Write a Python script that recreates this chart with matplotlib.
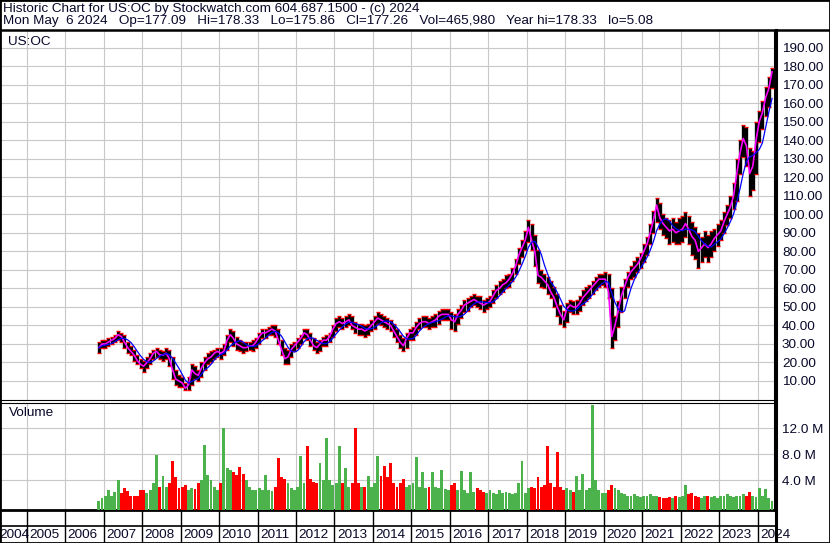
import matplotlib.pyplot as plt
import numpy as np
import pandas as pd
from matplotlib.patches import Rectangle
from matplotlib.lines import Line2D

plt.rcParams['font.family'] = ['Liberation Sans', 'DejaVu Sans']

# monthly values, Nov 2006 .. May 2024
close = [28, 30,
         30, 31, 32, 33, 35, 34, 31, 28, 26, 24, 21, 19,
         18, 20, 22, 25, 26, 24, 24, 25, 22, 16, 11, 10,
         9, 6, 8, 16, 14, 13, 17, 20, 22, 23, 25, 26,
         25, 26, 32, 35, 33, 30, 29, 28, 28, 29, 29, 31,
         34, 36, 36, 37, 38, 37, 32, 27, 22, 23, 27, 29,
         31, 33, 36, 35, 32, 29, 28, 30, 32, 32, 34, 38,
         41, 42, 41, 42, 43, 40, 39, 38, 38, 37, 38, 40,
         42, 44, 43, 42, 41, 40, 37, 34, 31, 29, 33, 36,
         36, 39, 41, 42, 42, 41, 42, 43, 45, 46, 46, 46,
         43, 42, 46, 48, 51, 52, 53, 54, 53, 52, 51, 52,
         53, 56, 59, 60, 62, 63, 65, 68, 72, 78, 82, 86,
         93, 86, 80, 67, 66, 64, 62, 58, 55, 50, 46, 43,
         49, 51, 50, 50, 52, 55, 57, 59, 61, 63, 65, 65,
         65, 58, 34, 40, 48, 56, 61, 66, 69, 71, 73, 76,
         80, 84, 90, 97, 105, 98, 95, 93, 91, 92, 90, 91,
         92, 95, 92, 88, 86, 80, 82, 84, 82, 84, 87, 89,
         91, 96, 100, 104, 110, 122, 133, 141, 137, 122, 126, 140,
         150, 155, 163, 168, 177]
high = [31, 32,
        32, 33, 34, 35, 37, 36, 35, 31, 29, 27, 24, 22,
        21, 23, 25, 27, 28, 27, 26, 28, 27, 23, 16, 13,
        12, 9, 12, 19, 18, 16, 20, 23, 25, 26, 27, 28,
        28, 30, 35, 38, 37, 34, 32, 31, 31, 31, 32, 33,
        36, 38, 38, 39, 40, 40, 38, 32, 28, 27, 30, 31,
        33, 35, 38, 38, 36, 33, 31, 32, 34, 35, 36, 40,
        44, 45, 44, 45, 46, 45, 42, 41, 41, 40, 41, 43,
        45, 47, 46, 45, 44, 43, 41, 38, 35, 33, 36, 38,
        39, 42, 44, 45, 45, 44, 45, 46, 48, 49, 49, 49,
        47, 46, 49, 51, 54, 55, 56, 57, 56, 56, 54, 55,
        56, 59, 62, 64, 65, 67, 68, 71, 76, 82, 86, 91,
        97, 95, 89, 81, 70, 68, 66, 64, 61, 57, 51, 48,
        52, 54, 53, 54, 56, 59, 61, 62, 64, 66, 68, 68,
        69, 68, 60, 45, 53, 61, 65, 69, 72, 75, 77, 79,
        84, 88, 95, 102, 109, 106, 100, 98, 97, 98, 96, 98,
        99, 101, 99, 96, 93, 90, 88, 91, 89, 91, 92, 95,
        97, 101, 105, 110, 117, 130, 140, 148, 147, 136, 134, 150,
        156, 161, 169, 174, 179]
low = [25, 28,
       28, 29, 30, 31, 32, 31, 28, 25, 24, 21, 19, 17,
       15, 17, 19, 22, 23, 22, 21, 22, 18, 11, 8, 7,
       7, 5, 5, 8, 11, 10, 12, 16, 19, 20, 22, 23,
       22, 24, 27, 31, 29, 27, 26, 25, 26, 27, 26, 28,
       30, 33, 33, 35, 35, 34, 30, 24, 19, 19, 23, 26,
       28, 30, 33, 32, 29, 27, 25, 26, 29, 29, 31, 34,
       37, 39, 38, 39, 40, 38, 36, 35, 35, 34, 35, 37,
       38, 41, 40, 39, 38, 37, 34, 31, 28, 26, 28, 32,
       32, 35, 38, 39, 39, 38, 39, 39, 41, 43, 43, 43,
       38, 37, 41, 44, 47, 48, 50, 51, 50, 49, 47, 49,
       50, 52, 55, 57, 58, 60, 61, 64, 68, 73, 77, 81,
       85, 81, 72, 63, 61, 60, 57, 55, 50, 45, 41, 39,
       42, 47, 46, 46, 48, 51, 53, 55, 57, 59, 61, 62,
       61, 55, 28, 32, 39, 47, 55, 61, 65, 66, 69, 71,
       74, 78, 84, 90, 96, 92, 89, 87, 84, 85, 84, 84,
       85, 88, 84, 78, 76, 71, 74, 77, 74, 77, 80, 83,
       86, 90, 94, 98, 103, 107, 122, 131, 126, 110, 113, 122,
       139, 146, 153, 158, 168]
# millions of shares
volume = [0.8, 1.2,
          1.5, 2.5, 1.6, 2.2, 4.0, 2.0, 2.8, 2.3, 1.5, 1.6, 1.6, 2.5,
          2.5, 2.0, 2.5, 3.5, 7.9, 3.0, 4.6, 3.0, 3.5, 6.9, 4.5, 2.8,
          3.0, 3.2, 2.5, 2.8, 2.6, 3.5, 4.0, 9.5, 4.8, 4.0, 3.0, 2.5,
          3.5, 12.0, 5.9, 5.5, 5.2, 4.8, 6.0, 5.0, 4.0, 3.0, 2.5, 2.5,
          2.8, 2.5, 4.8, 2.5, 2.3, 3.0, 7.5, 4.5, 4.2, 3.5, 2.8, 2.5,
          3.0, 7.7, 3.5, 9.3, 4.2, 3.8, 3.5, 6.6, 4.0, 10.5, 4.0, 3.2,
          3.5, 9.3, 3.5, 5.9, 3.0, 3.5, 12.0, 3.5, 3.0, 3.0, 4.6, 3.0,
          3.5, 7.7, 4.6, 6.2, 4.5, 6.6, 3.5, 3.0, 3.6, 4.2, 3.0, 3.2,
          3.5, 7.6, 3.0, 5.2, 2.8, 3.0, 5.2, 3.0, 2.8, 5.5, 2.6, 2.5,
          3.2, 3.5, 2.5, 5.4, 2.5, 2.0, 5.2, 2.2, 2.8, 2.5, 2.2, 2.0,
          2.5, 2.0, 1.8, 2.5, 2.0, 2.2, 2.0, 1.8, 2.0, 3.6, 7.0, 2.0,
          2.8, 3.0, 2.8, 4.5, 3.0, 3.2, 9.3, 3.6, 3.0, 8.3, 3.0, 2.5,
          2.8, 2.5, 2.2, 4.6, 2.5, 5.0, 2.5, 2.8, 15.6, 4.0, 2.5, 2.0,
          2.0, 2.5, 3.3, 2.8, 2.5, 2.0, 1.8, 1.5, 1.6, 1.8, 1.5, 1.4,
          1.5, 1.6, 1.8, 1.6, 1.5, 1.4, 1.3, 1.2, 1.4, 1.3, 1.5, 1.4,
          1.6, 3.2, 1.8, 2.0, 1.5, 1.4, 1.3, 1.6, 1.5, 1.4, 1.5, 1.2,
          1.5, 1.6, 1.8, 1.5, 1.4, 1.6, 1.5, 1.8, 1.6, 2.2, 1.5, 1.4,
          2.8, 1.5, 2.6, 1.2, 0.8]

price_ticks = list(range(10, 200, 10))
vol_ticks = [4, 8, 12]
years = list(range(2004, 2025))
symbol = "US:OC"
title1 = "Historic Chart for US:OC by Stockwatch.com 604.687.1500 - (c) 2024"
title2 = ("Mon May  6 2024   Op=177.09   Hi=178.33   Lo=175.86   Cl=177.26   "
          "Vol=465,980   Year hi=178.33   lo=5.08")

W, H = 830, 543
YEAR_PX = 38.47
X0 = 2005 - 26.7 / YEAR_PX
X1 = 2005 + (775 - 26.7) / YEAR_PX


def box(x0, y0, x1, y1):
    return [x0 / W, 1 - y1 / H, (x1 - x0) / W, (y1 - y0) / H]


dates = pd.date_range('2006-11-01', periods=len(close), freq='MS')
t = dates.year + (dates.month - 0.5) / 12
cs = pd.Series(close, dtype=float)
ma_long = cs.rolling(5, min_periods=1).mean()
up = cs.diff().fillna(0) >= 0

grid_c = '#c8c8c8'
txt_c = '#08082a'
fs = 9.7

fig = plt.figure(figsize=(W / 100, H / 100), dpi=100)
fig.patch.set_facecolor('white')

# header
fig.text(3 / W, 1 - 9 / H, title1, fontsize=fs, color=txt_c, va='center', ha='left')
fig.text(3 / W, 1 - 21 / H, title2, fontsize=fs, color=txt_c, va='center', ha='left')

# price panel
ax = fig.add_axes(box(0, 31, 775, 400))
ax.set_xlim(X0, X1)
ax.set_ylim(-0.27, 199.0)
ax.set_xticks(years[1:])
ax.set_yticks(price_ticks)
ax.grid(True, color=grid_c, lw=0.8)
ax.set_axisbelow(True)
ax.yaxis.tick_right()
ax.set_yticklabels([f"{v:.2f}" for v in price_ticks])
ax.tick_params(axis='y', length=0, pad=5, labelsize=fs, labelcolor=txt_c)
ax.tick_params(axis='x', length=0, labelbottom=False)
for s in ['top', 'left']:
    ax.spines[s].set_visible(False)
ax.spines['bottom'].set_linewidth(0.8)
ax.spines['right'].set_linewidth(2.2)

ax.vlines(t, low, high, color='black', lw=2.4, zorder=3)
ax.plot(t, low, ls='none', marker='_', ms=2.5, mew=1.0, color='red', zorder=4)
ax.plot(t, high, ls='none', marker='_', ms=2.5, mew=1.0, color='red', zorder=4)
ax.plot(t, close, color='#ff00ff', lw=1.2, zorder=5)
ax.plot(t, ma_long, color='#0000ff', lw=0.9, zorder=6)
ax.text(8 / 775, 1 - 11 / 369, symbol, transform=ax.transAxes, fontsize=fs,
        color=txt_c, va='center', ha='left')

# volume panel
axv = fig.add_axes(box(0, 402.5, 775, 510))
axv.set_xlim(X0, X1)
axv.set_ylim(-0.6, 16.0)
axv.set_xticks(years[1:])
axv.set_yticks(vol_ticks)
axv.grid(True, color=grid_c, lw=0.8)
axv.set_axisbelow(True)
axv.yaxis.tick_right()
axv.set_yticklabels([f"{v:.1f} M" for v in vol_ticks])
axv.tick_params(axis='y', length=0, pad=5, labelsize=fs, labelcolor=txt_c)
axv.tick_params(axis='x', length=0, labelbottom=False)
axv.spines['left'].set_visible(False)
axv.spines['top'].set_linewidth(0.8)
axv.spines['bottom'].set_linewidth(2.0)
axv.spines['right'].set_linewidth(2.2)
colors = np.where(up, '#4cb34c', '#ff0000')
axv.bar(t, np.array(volume) + 0.6, bottom=-0.6, width=0.9 / 12, color=colors,
        linewidth=0, zorder=3)
axv.text(9 / 775, 1 - 11 / 107.5, "Volume", transform=axv.transAxes, fontsize=fs,
         color=txt_c, va='center', ha='left')

# date band
axd = fig.add_axes(box(0, 510, 775, 543))
axd.set_xlim(X0, X1)
axd.set_ylim(0, 1)
axd.axis('off')
axd.axhline(17 / 33, color='black', lw=1.2)
axd.vlines(years[1:], 0, 1, color='black', lw=1.0)
for y in years:
    xpos = y + 2.5 / YEAR_PX if y > years[0] else X0 - 1 / YEAR_PX
    axd.text(xpos, 8.5 / 33, str(y), fontsize=fs, color=txt_c, va='center', ha='left')

# frame lines
fig.add_artist(Line2D([0, 1], [1 - 30 / H, 1 - 30 / H], color='black', lw=1.8))
fig.add_artist(Line2D([775.5 / W, 775.5 / W], [0, 1 - 30 / H], color='black', lw=2.2))
fig.add_artist(Rectangle((0, 0), 1, 1, transform=fig.transFigure, fill=False,
                         ec='black', lw=2.0))

fig.savefig('out.png', dpi=100)
